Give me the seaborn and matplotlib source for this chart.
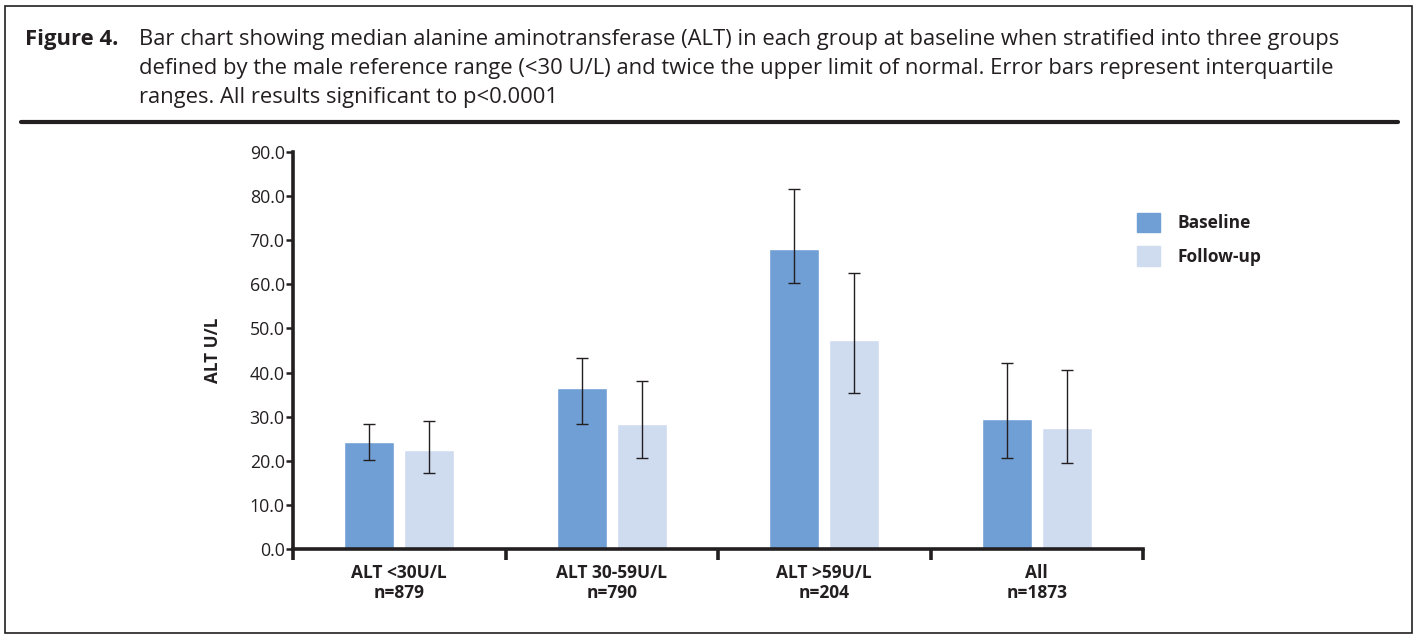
import numpy as np
import pandas as pd
import matplotlib
matplotlib.use("Agg")
import matplotlib.pyplot as plt
import seaborn as sns
from matplotlib.patches import Rectangle
from matplotlib.lines import Line2D

# data (median ALT and IQR)
groups = ["ALT <30U/L\nn=879", "ALT 30-59U/L\nn=790", "ALT >59U/L\nn=204", "All\nn=1873"]
baseline = [24.3, 36.5, 68.0, 29.5]
baseline_q1 = [20.2, 28.3, 60.3, 20.6]
baseline_q3 = [28.3, 43.3, 81.6, 42.2]
followup = [22.4, 28.3, 47.4, 27.4]
followup_q1 = [17.2, 20.6, 35.4, 19.5]
followup_q3 = [29.0, 38.1, 62.6, 40.6]
series = ["Baseline", "Follow-up"]
yticks = np.arange(0, 91, 10)
caption = [
    "Bar chart showing median alanine aminotransferase (ALT) in each group at baseline when stratified into three groups",
    "defined by the male reference range (<30 U/L) and twice the upper limit of normal. Error bars represent interquartile",
    "ranges. All results significant to p<0.0001",
]

dark = "#231F20"
colors = ["#6F9FD4", "#CFDCEF"]

sns.set_theme(style="white")
plt.rcParams['font.family'] = ['Open Sans', 'DejaVu Sans']

df = pd.DataFrame({
    "Group": groups * 2,
    "Time": [series[0]] * 4 + [series[1]] * 4,
    "ALT": baseline + followup,
})

W, H = 1419, 641
fig = plt.figure(figsize=(W / 100, H / 100), dpi=100)
ax = fig.add_axes([293 / W, 92 / H, 850 / W, 397 / H])

sns.barplot(data=df, x="Group", y="ALT", hue="Time", palette=colors,
            width=0.565, gap=0.167, errorbar=None, ax=ax, legend=False,
            saturation=1)

# interquartile range bars
lows = [baseline_q1, followup_q1]
highs = [baseline_q3, followup_q3]
meds = [baseline, followup]
bar_conts = list(ax.containers)
for k, cont in enumerate(bar_conts):
    xs = [b.get_x() + b.get_width() / 2 for b in cont]
    med = np.array(meds[k])
    err = [med - np.array(lows[k]), np.array(highs[k]) - med]
    ax.errorbar(xs, med, yerr=err, fmt="none", ecolor=dark,
                elinewidth=1.0, capsize=4.5, capthick=1.0)

ax.set_xlim(-0.5, 3.5)
ax.set_ylim(0, 90)
ax.set_yticks(yticks)
ax.set_yticklabels([f"{v:.1f}" for v in yticks], fontsize=12.8, color=dark)
ax.set_xlabel("")
ax.set_ylabel("ALT U/L", fontsize=12.3, fontweight="bold", color=dark, labelpad=20)
ax.set_xticks(range(len(groups)))
ax.set_xticklabels(groups, fontsize=12.5, fontweight="bold", color=dark, linespacing=1.15)

for s in ["top", "right"]:
    ax.spines[s].set_visible(False)
for s in ["left", "bottom"]:
    ax.spines[s].set_linewidth(2.6)
    ax.spines[s].set_color(dark)

ax.tick_params(axis="y", direction="out", length=5, width=1.8, color=dark, pad=1, left=True)
ax.tick_params(axis="x", which="major", length=0, pad=11)
ax.set_xticks(np.arange(-0.5, 4, 1), minor=True)
ax.tick_params(axis="x", which="minor", direction="out", length=8, width=2.6, color=dark, bottom=True)

handles = [Rectangle((0, 0), 1, 1, color=c) for c in colors]
fig.legend(handles, series, loc="upper left", bbox_to_anchor=(1121 / W, 1 - 197 / H),
           frameon=False, prop={"size": 12.5, "weight": "bold"},
           handlelength=1.35, handleheight=1.35, handletextpad=1.0, labelspacing=0.8)
for t in fig.legends[0].get_texts():
    t.set_color(dark)

# caption header
fig.text(25 / W, 1 - 45 / H, "Figure 4.", fontsize=15.8, fontweight="bold",
         color=dark, va="baseline")
for i, line in enumerate(caption):
    fig.text(139 / W, 1 - (45 + 29 * i) / H, line, fontsize=15.8, color=dark, va="baseline")

fig.add_artist(Line2D([21 / W, 1398 / W], [1 - 122 / H] * 2, color=dark, lw=3))
fig.add_artist(Rectangle((5 / W, 8 / H), 1407 / W, 627 / H, fill=False,
                         edgecolor=dark, lw=1.2))

fig.savefig("out.png", dpi=100)
